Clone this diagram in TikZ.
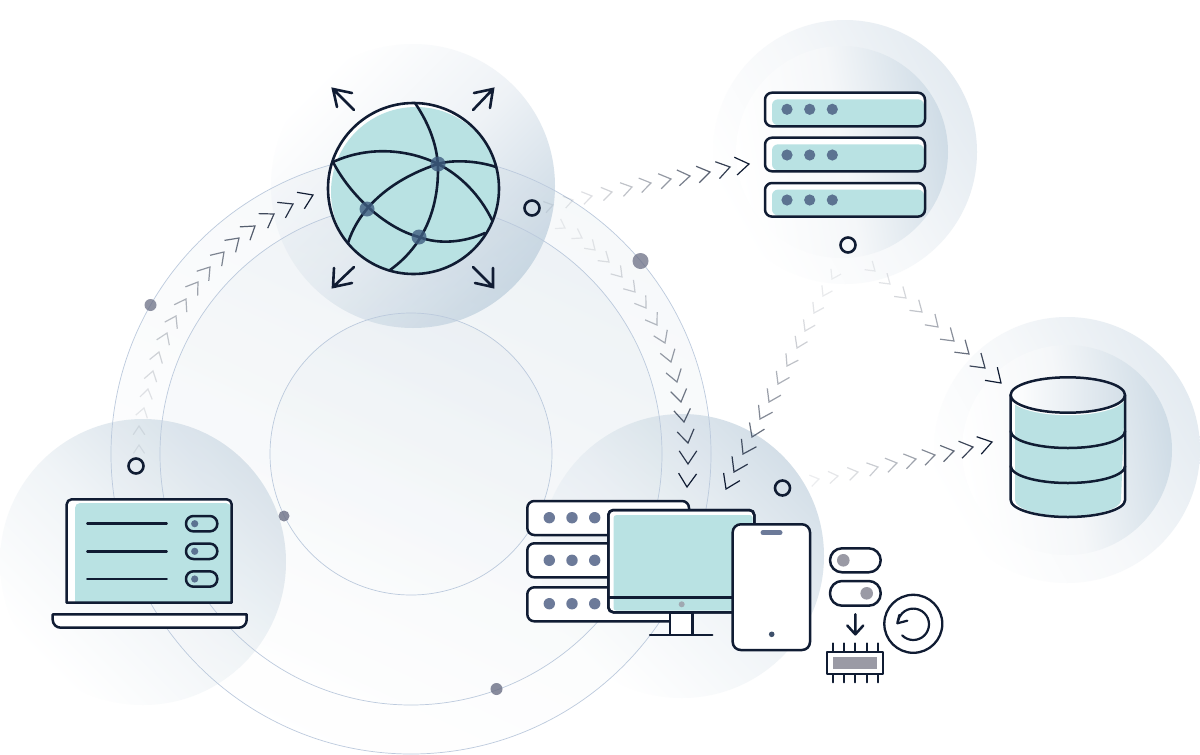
\documentclass[tikz,border=0pt]{standalone}
\definecolor{navy}{HTML}{101C33}
\definecolor{teal1}{HTML}{B9E2E3}
\definecolor{ringline}{HTML}{BCCADD}
\definecolor{ringdark}{HTML}{C0D1DE}
\definecolor{blobdark}{HTML}{CBD9E4}
\definecolor{blobmid}{HTML}{EEF2F6}
\definecolor{cornerdark}{HTML}{D4DFE8}
\definecolor{cornermid}{HTML}{F0F4F7}
\definecolor{halodark}{HTML}{E4EBF1}
\definecolor{halomid}{HTML}{F6F8FA}
\definecolor{innerdark}{HTML}{CFDCE6}
\definecolor{innermid}{HTML}{F5F7F9}
\definecolor{slate}{HTML}{5C7391}
\definecolor{nodeblue}{HTML}{3F5D80}
\definecolor{slatetwo}{HTML}{6C7A99}
\definecolor{graydot}{HTML}{6B6F85}
\definecolor{toggledot}{HTML}{9A9AA5}
\tikzset{
  icon/.style={draw=navy,line width=2.5pt,line join=round,line cap=round},
  whitebox/.style={icon,fill=white,rounded corners=7pt},
  hollow/.style={draw=navy,line width=2.6pt},
  ringarc/.style={draw=ringline,line width=.7pt},
  globeline/.style={draw=navy,line width=2.6pt,line cap=round},
  chev/.style={draw=navy,line width=1.2pt,line join=miter},
  tealfill/.style={fill=teal1},
}
% blob: x, y, radius, shading angle, far colour, middle colour
\newcommand\blobdisc[6]{\shade[left color=white,right color=#5,middle color=#6,shading angle=#4] (#1,#2) circle[radius=#3pt];}
% trail: count, start x, start y, list of tips
\newcommand\chevtrail[4]{%
  \foreach \x/\y [count=\i, remember=\x as \px (initially #2), remember=\y as \py (initially #3)] in {#4} {
    \pgfmathsetmacro\ang{atan2(\y-\py,\x-\px)}
    \pgfmathsetmacro\frac{\i/#1}
    \pgfmathsetmacro\op{0.07+0.93*\frac*\frac}
    \pgfmathsetmacro\sz{0.6+0.4*\frac}
    \draw[chev,draw opacity=\op,shift={(\x,\y)},rotate=\ang] (-13.5*\sz,-9*\sz) -- (0,0) -- (-13.5*\sz,9*\sz);
  }%
}
\begin{document}
\begin{tikzpicture}[x=1pt,y=1pt,yscale=-1]
\useasboundingbox (0,0) rectangle (1200,755);
\fill[white] (0,0) rectangle (1200,755);
% background discs
\blobdisc{413}{186}{142}{45}{blobdark}{blobmid}
\blobdisc{143}{562}{143}{135}{cornerdark}{cornermid}
\blobdisc{682}{556}{142}{135}{cornerdark}{cornermid}
\blobdisc{845}{152}{132}{120}{halodark}{halomid}
\blobdisc{842}{152}{106}{100}{innerdark}{innermid}
\blobdisc{1067}{450}{133}{120}{halodark}{halomid}
\blobdisc{1067}{450}{105}{100}{innerdark}{innermid}
% rings
\shade[left color=white,right color=ringdark,shading angle=155,fill opacity=.13] (411,454) circle[radius=300pt];
\shade[left color=white,right color=ringdark,shading angle=155,fill opacity=.16] (411,454) circle[radius=251pt];
\shade[left color=white,right color=ringdark,shading angle=155,fill opacity=.12] (411,454) circle[radius=141pt];
\draw[ringarc] (411,454) circle[radius=300pt];
\draw[ringarc] (411,454) circle[radius=251pt];
\draw[ringarc] (411,454) circle[radius=141pt];
% grey dots
\fill[graydot,opacity=.75] (640.5,261) circle[radius=8pt];
\fill[graydot,opacity=.75] (150.5,305) circle[radius=6pt];
\fill[graydot,opacity=.8] (284,516) circle[radius=5.5pt];
\fill[graydot,opacity=.8] (496.5,689) circle[radius=6pt];
% chevron trails
\chevtrail{17}{139}{464}{139/445,139/426,144/408,148/389,153/371,159/352,167/333,176/316,186/299,198/282,210/267,224/252,239/238,255/226,274/214,293/204,313/195}
\chevtrail{11}{533}{210}{553/205,573/200,592/196,612/192,632/187,651/183,671/179,690/176,710/172,730/167,749/164}
\chevtrail{16}{548}{218}{565/228,582/238,595/250,609/262,622/277,635/292,646/308,657/325,665/343,671/362,677/382,681/402,684/422,688/443,688/464,687/487}
\chevtrail{13}{841}{262}{832/279,823/296,814/313,805/331,797/348,787/366,778/384,769/402,760/419,752/437,743/454,734/472,726/489}
\chevtrail{9}{860}{258}{875/271,890/284,906/298,922/312,938/327,954/341,969/354,985/368,1001/383}
\chevtrail{10}{800}{483}{819/479,838/476,858/472,878/467,897/463,916/459,935/455,954/451,973/447,992/442}
% open circles
\draw[hollow] (532,208) circle[radius=7.5pt];
\draw[hollow] (848,245) circle[radius=7.5pt];
\draw[hollow] (136,466) circle[radius=7.5pt];
\draw[hollow] (782.5,488) circle[radius=7.5pt];
% globe
\fill[white] (413.5,188.5) circle[radius=85.5pt];
\begin{scope}
  \clip (413.5,188.5) circle[radius=85.5pt];
  \fill[tealfill] (416,192) circle[radius=85pt];
\end{scope}
\draw[globeline] (413.5,188.5) circle[radius=85.5pt];
\draw[globeline] (415,103) .. controls (430,125) and (438,148) .. (438,170) .. controls (438,195) and (432,240) .. (390,270);
\draw[globeline] (333,162) .. controls (370,145) and (410,150) .. (438,164);
\draw[globeline] (438,164) .. controls (450,160) and (475,160) .. (496,167);
\draw[globeline] (333,162) .. controls (350,195) and (385,228) .. (419,237) .. controls (440,245) and (465,242) .. (485,233);
\draw[globeline] (348,243) .. controls (360,205) and (395,178) .. (438,164);
\draw[globeline] (438,164) .. controls (460,175) and (480,195) .. (492,220);
\fill[nodeblue,opacity=.8] (438,164) circle[radius=7.5pt];
\fill[nodeblue,opacity=.8] (367,209) circle[radius=7.5pt];
\fill[nodeblue,opacity=.8] (419,237) circle[radius=7.5pt];
\draw[globeline] (354,110) -- (333,89) (352,93) -- (333,89) -- (337,107);
\draw[globeline] (473,110) -- (493,89) (474,93) -- (493,89) -- (490,108);
\draw[globeline] (354,267) -- (333,287) (352,283) -- (333,287) -- (334,268);
\draw[globeline] (473,267) -- (493,287) (475,283) -- (493,287) -- (493,268);
% top-right server
\foreach \t/\d in {92.7/109.3,137.7/155,183/200} {
  \fill[white,rounded corners=7pt] (765,\t) rectangle (925,\t+33.6);
  \fill[tealfill,rounded corners=6pt] (772,\t+6.6) rectangle (924,\t+32.5);
  \draw[icon,rounded corners=7pt] (765,\t) rectangle (925,\t+33.6);
  \foreach \c in {787,809.7,832.3} \fill[slate] (\c,\d) circle[radius=5.6pt];
}
% database
\fill[white] (1010.7,395) -- (1010.7,500) arc[start angle=180,end angle=0,x radius=57.2pt,y radius=17pt] -- (1125,395) -- cycle;
\fill[teal1!92!ringdark] (1015,395) -- (1015,500) arc[start angle=180,end angle=0,x radius=53pt,y radius=16pt] -- (1125,395) -- cycle;
\fill[white] (1067.8,397.5) ellipse[x radius=57.2pt,y radius=17.7pt];
\shade[left color=white,right color=cornerdark,shading angle=90] (1067.8,395) ellipse[x radius=57.2pt,y radius=17.7pt];
\draw[icon] (1067.8,395) ellipse[x radius=57.2pt,y radius=17.7pt];
\draw[icon] (1010.7,395) -- (1010.7,500) arc[start angle=180,end angle=0,x radius=57.2pt,y radius=17pt] -- (1125,395);
\draw[icon] (1010.7,431) arc[start angle=180,end angle=0,x radius=57.2pt,y radius=17pt];
\draw[icon] (1010.7,466) arc[start angle=180,end angle=0,x radius=57.2pt,y radius=17pt];
% laptop
\fill[white] (66.7,602.7) [rounded corners=5pt] -- (66.7,499.3) -- (231.7,499.3) [sharp corners] -- (231.7,602.7) -- cycle;
\fill[tealfill] (75,602) [rounded corners=5pt] -- (75,503) -- (231,503) [sharp corners] -- (231,602) -- cycle;
\draw[icon] (66.7,602.7) [rounded corners=5pt] -- (66.7,499.3) -- (231.7,499.3) [sharp corners] -- (231.7,602.7) -- cycle;
\draw[icon,fill=white] (52.7,614.3) -- (246.7,614.3) [rounded corners=8pt] -- (246.7,627.7) -- (52.7,627.7) [sharp corners] -- cycle;
\foreach \l in {523.7,551.3,579} {
  \draw[icon] (87.3,\l) -- (166.7,\l);
  \draw[icon,rounded corners=7.5pt] (186,\l-7.7) rectangle (217.3,\l+7.7);
  \fill[slate] (194.7,\l) circle[radius=3.6pt];
}
% device servers
\foreach \t/\d in {501/517.7,543.3/560.3,587.3/603.7} {
  \draw[whitebox] (527.3,\t) rectangle (689,\t+34);
  \foreach \c in {549.3,572,594.7} \fill[slatetwo] (\c,\d) circle[radius=5.7pt];
}
% monitor
\draw[icon,fill=white] (670,612.3) rectangle (692.7,635);
\draw[icon] (650,635) -- (712.3,635);
\draw[icon,fill=white,rounded corners=5pt] (608.3,510) rectangle (754.3,612.3);
\fill[tealfill,rounded corners=3pt] (613.5,515) rectangle (752.7,610.7);
\draw[icon,rounded corners=5pt] (608.3,510) rectangle (754.3,612.3);
\draw[icon] (608.3,597.3) -- (754.3,597.3);
\fill[toggledot!80!teal1] (681.7,604.3) circle[radius=3pt];
% phone
\draw[icon,fill=white,rounded corners=8pt] (732.7,524.3) rectangle (810,650);
\draw[slatetwo,line width=5pt,line cap=round] (763,532.7) -- (780,532.7);
\fill[slate!60!navy] (771.7,634.3) circle[radius=2.8pt];
% toggles
\draw[icon,fill=white,rounded corners=12pt] (830,548.3) rectangle (880.7,572.3);
\fill[toggledot] (843.3,560.3) circle[radius=6.3pt];
\draw[icon,fill=white,rounded corners=12pt] (830,581) rectangle (880.7,605.7);
\fill[toggledot] (866.7,593.3) circle[radius=6.3pt];
\draw[icon] (855.3,614.3) -- (855.3,634.3) (847.3,625.5) -- (855.3,634.3) -- (863.3,625.5);
% chip
\draw[icon,line width=2pt] (832.7,643.3) -- (832.7,651.7) (844,643.3) -- (844,651.7) (855.3,643.3) -- (855.3,651.7) (866.7,643.3) -- (866.7,651.7) (878,643.3) -- (878,651.7);
\draw[icon,line width=2pt] (832.7,674.3) -- (832.7,682.3) (844,674.3) -- (844,682.3) (855.3,674.3) -- (855.3,682.3) (866.7,674.3) -- (866.7,682.3) (878,674.3) -- (878,682.3);
\draw[icon,line width=2pt,fill=white] (826.7,651.7) rectangle (883.3,674.3);
\fill[toggledot] (833.3,657.3) rectangle (877.3,669);
% reload
\draw[draw=navy,line width=2.3pt] (913.3,623.8) circle[radius=29pt];
\draw[icon,line width=2.2pt] (902.2,635.4) arc[start angle=135,end angle=-170,radius=15.7pt];
\draw[icon,line width=2.2pt] (899.3,615) -- (897.3,623.3) -- (907.3,620.7);
\end{tikzpicture}
\end{document}
